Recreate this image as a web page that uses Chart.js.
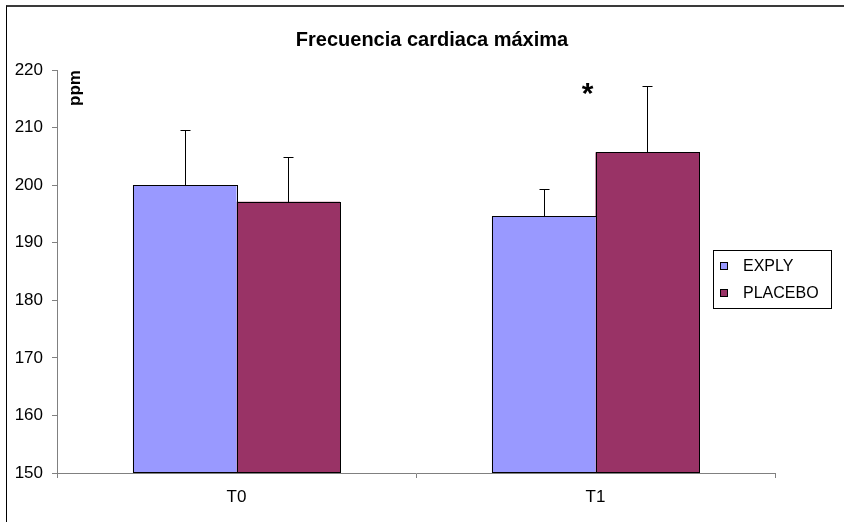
<!DOCTYPE html>
<html>
<head>
<meta charset="utf-8">
<script src="https://cdn.jsdelivr.net/npm/chart.js@4/dist/chart.umd.min.js"></script>
<style>
  html, body { margin: 0; padding: 0; background: #fff; overflow: hidden; }
  #wrap { position: relative; width: 844px; height: 522px; overflow: hidden; }
  #frame {
    position: absolute; left: 6px; top: 5px; width: 900px; height: 600px;
    border-top: 2px solid #3a3a3a; border-left: 1px solid #000;
  }
  canvas { position: absolute; left: 0; top: 0; }
</style>
</head>
<body>
<div id="wrap">
  <div id="frame"></div>
  <canvas id="chart" width="844" height="522"></canvas>
</div>
<script>
'use strict';
const chartTitle = 'Frecuencia cardiaca máxima';
const categories = ['T0', 'T1'];
const seriesNames = ['EXPLY', 'PLACEBO'];
const explyValues = [200, 194.6];
const placeboValues = [197.1, 205.7];
// upper error bar lengths (ppm)
const explyErrors = [9.5, 4.8];
const placeboErrors = [7.8, 11.5];
const yTicks = [150, 160, 170, 180, 190, 200, 210, 220];
const starLevel = 216.6;

const barColors = ['#9999ff', '#993366'];
const fontFamily = '"Liberation Sans", Arial, sans-serif';

// black outline around each bar, snapped to whole pixels
const barOutlinePlugin = {
  id: 'barOutline',
  afterDatasetsDraw(chart){
    const ctx = chart.ctx;
    const yScale = chart.scales.y;
    const b = Math.round(yScale.getPixelForValue(yScale.min)) - 0.5;
    ctx.save();
    ctx.strokeStyle = '#000';
    ctx.lineWidth = 1;
    chart.data.datasets.forEach((ds, i) => {
      chart.getDatasetMeta(i).data.forEach(bar => {
        const l = Math.round(bar.x - bar.width / 2) + 0.5;
        const r = Math.round(bar.x + bar.width / 2) + 0.5;
        const t = Math.round(bar.y) + 0.5;
        ctx.strokeRect(l, t, r - l, b - t);
      });
    });
    ctx.restore();
  }
};

const errorBarPlugin = {
  id: 'errorBars',
  afterDatasetsDraw(chart){
    const ctx = chart.ctx;
    const yScale = chart.scales.y;
    ctx.save();
    ctx.strokeStyle = '#000';
    ctx.lineWidth = 1;
    chart.data.datasets.forEach((ds, i) => {
      chart.getDatasetMeta(i).data.forEach((bar, j) => {
        const top = Math.round(yScale.getPixelForValue(ds.data[j] + ds.errors[j])) + 0.5;
        const x = Math.round(bar.x) + 0.5;
        ctx.beginPath();
        ctx.moveTo(x, Math.round(bar.y));
        ctx.lineTo(x, top);
        ctx.moveTo(x - 5, top);
        ctx.lineTo(x + 5, top);
        ctx.stroke();
      });
    });
    ctx.restore();
  }
};

// title, y axis name and significance mark
const notesPlugin = {
  id: 'notes',
  afterDraw(chart){
    const ctx = chart.ctx;
    const area = chart.chartArea;
    ctx.save();
    ctx.fillStyle = '#000';
    ctx.textAlign = 'center';
    ctx.textBaseline = 'middle';
    ctx.font = 'bold 20px ' + fontFamily;
    ctx.fillText(chartTitle, 432, 40);

    ctx.save();
    ctx.font = 'bold 17px ' + fontFamily;
    ctx.translate(area.left + 18, area.top + 18);
    ctx.rotate(-Math.PI / 2);
    ctx.fillText('ppm', 0, 0);
    ctx.restore();

    ctx.font = 'bold 30px ' + fontFamily;
    const sx = chart.scales.x.getPixelForValue(1) - 8;
    const sy = chart.scales.y.getPixelForValue(starLevel);
    ctx.fillText('*', sx, sy + 5);
    ctx.restore();
  }
};

const boxLegendPlugin = {
  id: 'boxLegend',
  afterDraw(chart){
    const ctx = chart.ctx;
    const area = chart.chartArea;
    const left = area.right - 62;
    const top = area.top + 180;
    ctx.save();
    ctx.fillStyle = '#fff';
    ctx.fillRect(left, top, 118, 58);
    ctx.strokeStyle = '#000';
    ctx.lineWidth = 1;
    ctx.strokeRect(left + 0.5, top + 0.5, 118, 58);
    ctx.font = '16px ' + fontFamily;
    ctx.textBaseline = 'middle';
    chart.data.datasets.forEach((ds, i) => {
      const cy = top + 16 + i * 27;
      ctx.fillStyle = ds.backgroundColor;
      ctx.fillRect(left + 7, cy - 4, 8, 8);
      ctx.strokeRect(left + 7.5, cy - 3.5, 7, 7);
      ctx.fillStyle = '#000';
      ctx.fillText(ds.label, left + 30, cy + 1);
    });
    ctx.restore();
  }
};

new Chart(document.getElementById('chart'), {
  type: 'bar',
  data: {
    labels: categories,
    datasets: [
      { label: seriesNames[0], data: explyValues, errors: explyErrors,
        backgroundColor: barColors[0], borderWidth: 0 },
      { label: seriesNames[1], data: placeboValues, errors: placeboErrors,
        backgroundColor: barColors[1], borderWidth: 0 }
    ]
  },
  options: {
    responsive: false,
    animation: false,
    layout: { padding: { left: 0, right: 69, top: 70, bottom: 0 } },
    datasets: { bar: { categoryPercentage: 0.577, barPercentage: 1 } },
    plugins: {
      legend: { display: false },
      tooltip: { enabled: false },
      title: { display: false }
    },
    scales: {
      x: {
        grid: { drawOnChartArea: false, drawTicks: true, tickLength: 5, color: '#808080', offset: true },
        border: { color: '#808080', width: 1 },
        ticks: { color: '#000', padding: 9, font: { family: fontFamily, size: 17 } },
        afterFit(scale){ scale.height = 49; }
      },
      y: {
        min: 150,
        max: 220,
        afterBuildTicks(scale){ scale.ticks = yTicks.map(v => ({ value: v })); },
        grid: { drawOnChartArea: false, drawTicks: true, tickLength: 5, color: '#808080' },
        border: { color: '#808080', width: 1 },
        ticks: { color: '#000', padding: 9, font: { family: fontFamily, size: 17 } },
        afterFit(scale){ scale.width = 57; }
      }
    }
  },
  plugins: [barOutlinePlugin, errorBarPlugin, notesPlugin, boxLegendPlugin]
});
</script>
</body>
</html>
